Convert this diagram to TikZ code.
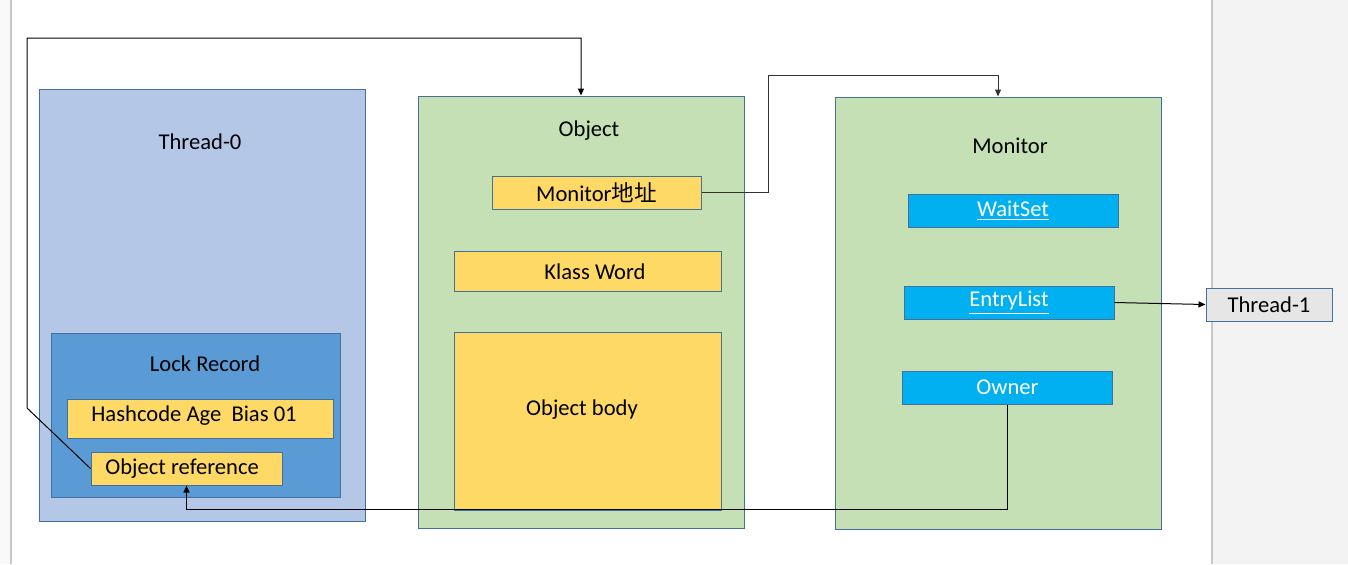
\documentclass[tikz,border=0pt]{standalone}
\usepackage{fontspec}
\setmainfont{Carlito}
\newfontfamily\cjkfont{Noto Sans CJK SC}
\definecolor{threadBlue}{HTML}{B4C7E7}
\definecolor{recordBlue}{HTML}{5B9BD5}
\definecolor{fieldYellow}{HTML}{FFD966}
\definecolor{objGreen}{HTML}{C5E0B4}
\definecolor{slotCyan}{HTML}{00B0F0}
\definecolor{idleGrey}{HTML}{E7E6E6}
\definecolor{edgeBlue}{HTML}{41719C}
\definecolor{pageGrey}{HTML}{F3F3F3}
\definecolor{ruleGrey}{HTML}{C8C8C8}
\usepackage{tikz}
\usetikzlibrary{arrows.meta, positioning}

\tikzset{
  panel/.style={draw=edgeBlue, line width=0.5pt, inner sep=0pt,
                minimum width=163pt, minimum height=216pt},
  field/.style={draw=edgeBlue, line width=0.5pt, fill=fieldYellow, inner sep=0pt,
                minimum height=16.5pt},
  slot/.style={draw=edgeBlue, line width=0.5pt, fill=slotCyan, text=white, inner sep=0pt,
               minimum width=105pt, minimum height=16.5pt},
  link/.style={-{Triangle[length=3.5pt,width=3pt]}, line width=0.5pt},
}

\begin{document}
\begin{tikzpicture}[x=0.5pt, y=-0.5pt, font=\fontsize{11.3}{13}\selectfont]
  % page and margins
  \useasboundingbox (0,0) rectangle (1348,564);
  \fill[white] (0,0) rectangle (1348,564);
  \fill[pageGrey!50] (0,0) rectangle (11,564);
  \fill[pageGrey] (1212,0) rectangle (1348,564);
  \draw[ruleGrey, line width=0.6pt] (11,0) -- (11,564);
  \draw[ruleGrey, line width=0.6pt] (1212,0) -- (1212,564);

  % Thread-0 with its lock record
  \node[panel, fill=threadBlue] (thread0) at (202,305) {};
  \node (t0label) at (200,142) {Thread-0};
  \node[draw=edgeBlue, line width=0.5pt, fill=recordBlue, inner sep=0pt,
        minimum width=144.5pt, minimum height=82pt] (record) at (195.5,415) {};
  \node (reclabel) at (205,364) {Lock Record};
  \node[field, minimum width=133pt, minimum height=19.5pt] (mark) at (200,418.5) {};
  \node[anchor=west, inner sep=0pt] (marklabel) at (91,416) {Hashcode Age\ \ Bias 01};
  \node[field, minimum width=95.5pt] (objref) at (186.5,468.5) {};
  \node[anchor=west, inner sep=0pt] (reflabel) at (105,469) {Object reference};

  % the object
  \node[panel, fill=objGreen] (obj) at (581,312) {};
  \node (objlabel) at (589,131) {Object};
  \node[field, minimum width=104.5pt] (monaddr) at (596.5,192.5) {Monitor{\cjkfont 地址}};
  \node[field, minimum width=133.5pt, minimum height=20pt] (klass) at (587.5,271) {};
  \node (klasslabel) at (595,272) {Klass Word};
  \node[field, minimum width=133.5pt, minimum height=89pt] (body) at (587.5,421) {};
  \node (bodylabel) at (582,410) {Object body};

  % the monitor
  \node[panel, fill=objGreen] (monitor) at (998,313) {};
  \node (monlabel) at (1010,146) {Monitor};
  \node[slot] (waitset) at (1013,210.5) {\underline{WaitSet}};
  \node[slot] (entry) at (1009,302.5) {\underline{EntryList}};
  \node[slot] (owner) at (1007.5,387.5) {Owner};

  \node[draw=edgeBlue, line width=0.5pt, fill=idleGrey, inner sep=0pt,
        minimum width=63pt, minimum height=16.5pt] (thread1) at (1269,304.5) {Thread-1};

  % connectors
  \draw[link] (objref.west) -- (27,408) -- (27,38) -| (obj.north);
  \draw[link, black!80] (monaddr.east) -| (768,75) -| (monitor.north);
  \draw[link] (entry.east) -- (thread1.west);
  \draw[link] (owner.south) -- ++(0,105) -| (objref.south);
\end{tikzpicture}
\end{document}
